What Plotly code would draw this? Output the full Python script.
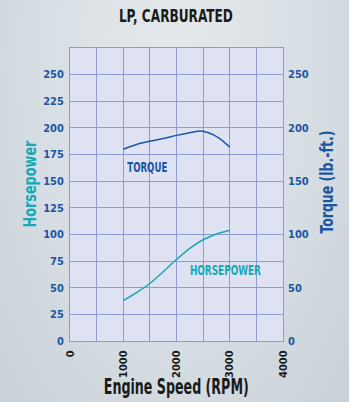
import plotly.graph_objects as go

rpm = [1000, 1250, 1500, 1750, 2000, 2250, 2500, 2750, 3000]
horsepower = [38, 45.5, 54, 65, 76.5, 87, 95, 100.5, 104]
torque_rpm = [1000, 1250, 1500, 1750, 2000, 2250, 2450, 2600, 2800, 3000]
torque = [180, 184.5, 187.5, 190, 193, 195.5, 197, 195.5, 190.5, 182]

x_ticks = [0, 500, 1000, 1500, 2000, 2500, 3000, 3500, 4000]
x_text = ["0", "", "1000", "", "2000", "", "3000", "", "4000"]
hp_ticks = [0, 25, 50, 75, 100, 125, 150, 175, 200, 225, 250]
tq_ticks = [0, 50, 100, 150, 200, 250]

FONT = "DejaVu Sans Condensed, Liberation Sans Narrow, sans-serif"
GRID = "#8f99d2"
DARKBLUE = "#1b56a3"
TEAL = "#19a7b6"

W, H = 349, 402
L, R, T, B = 70, 66, 48, 61
PW, PH = W - L - R, H - T - B


def px(xp):
    return (xp - L) / PW


def py(yp):
    return (H - B - yp) / PH


fig = go.Figure()
fig.add_trace(go.Scatter(x=torque_rpm, y=torque, mode="lines",
                         line=dict(color=DARKBLUE, width=1.5, shape="spline", smoothing=0.8),
                         yaxis="y2", showlegend=False, hoverinfo="skip"))
fig.add_trace(go.Scatter(x=rpm, y=horsepower, mode="lines",
                         line=dict(color=TEAL, width=1.5, shape="spline", smoothing=0.8),
                         showlegend=False, hoverinfo="skip"))

fig.update_layout(
    width=W, height=H,
    margin=dict(l=L, r=R, t=T, b=B),
    paper_bgcolor="rgba(0,0,0,0)",
    plot_bgcolor="#dfe2f2",
    xaxis=dict(range=[0, 4000], tickvals=x_ticks, ticktext=x_text, tickangle=-90,
               showgrid=True, gridcolor=GRID, gridwidth=1,
               showline=True, linecolor=GRID, linewidth=1, mirror=True,
               zeroline=False, ticks="", ticklabelstandoff=4,
               tickfont=dict(family=FONT, size=11, color="#1a1a1a", weight="bold")),
    yaxis=dict(range=[0, 275], tickvals=hp_ticks, showgrid=True, gridcolor=GRID, gridwidth=1,
               showline=True, linecolor=GRID, linewidth=1, mirror=True, zeroline=False, ticks="",
               ticklabelstandoff=3,
               tickfont=dict(family=FONT, size=11, color=DARKBLUE, weight="bold")),
    yaxis2=dict(range=[0, 275], tickvals=tq_ticks, overlaying="y", side="right", showgrid=False,
                zeroline=False, ticks="", ticklabelstandoff=4,
                tickfont=dict(family=FONT, size=11, color=DARKBLUE, weight="bold")),
    annotations=[
        dict(text="LP, CARBURATED", x=px(176), y=py(16), xref="paper", yref="paper", showarrow=False,
             xanchor="center", yanchor="middle",
             font=dict(family=FONT, size=17, color="#1a1a1a", weight="bold")),
        dict(text="Engine Speed (RPM)", x=px(176), y=py(387), xref="paper", yref="paper", showarrow=False,
             xanchor="center", yanchor="middle",
             font=dict(family=FONT, size=21, color="#1a1a1a", weight="bold")),
        dict(text="Horsepower", x=px(30), y=py(184), xref="paper", yref="paper", showarrow=False,
             xanchor="center", yanchor="middle", textangle=-90,
             font=dict(family=FONT, size=17, color=TEAL, weight="bold")),
        dict(text="Torque (lb.-ft.)", x=px(327), y=py(182), xref="paper", yref="paper", showarrow=False,
             xanchor="center", yanchor="middle", textangle=-90,
             font=dict(family=FONT, size=17, color=DARKBLUE, weight="bold")),
        dict(text="TORQUE", x=1446, y=163, xref="x", yref="y", showarrow=False,
             font=dict(family=FONT, size=14, color=DARKBLUE, weight="bold")),
        dict(text="HORSEPOWER", x=2920, y=67, xref="x", yref="y", showarrow=False,
             font=dict(family=FONT, size=14, color=TEAL, weight="bold")),
    ],
)

# condense the heavy display texts to the widths seen in the reference
widths = [114, 145, 87, 103, 40, 71]
js = ("document.body.style.margin='0';"
      "document.body.style.padding='0';"
      "document.documentElement.style.background="
      "'radial-gradient(ellipse at 50% 15%, #e3e8eb 0%, #d9e0e5 50%, #c8d1d8 100%)';"
      "document.body.style.background='transparent';"
      "document.body.style.minHeight='402px';"
      "var w=" + str(widths) + ";"
      "var t=document.querySelectorAll('.annotation-text');"
      "for(var i=0;i<t.length&&i<w.length;i++){"
      "t[i].setAttribute('textLength',w[i]);"
      "t[i].setAttribute('lengthAdjust','spacingAndGlyphs');}")

fig.write_html("out.html", post_script=js, config={"displayModeBar": False})
